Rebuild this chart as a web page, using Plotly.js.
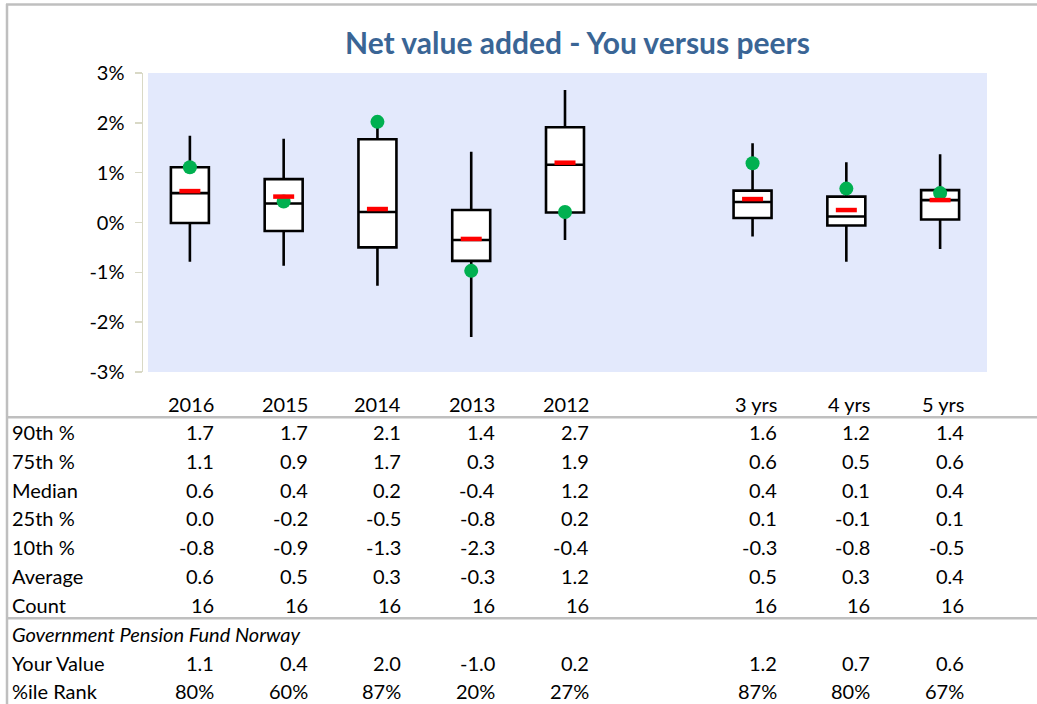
<!DOCTYPE html>
<html>
<head>
<meta charset="utf-8">
<script src="https://cdn.plot.ly/plotly-3.0.1.min.js"></script>
<style>html,body{margin:0;padding:0;background:#fff;}#chart{width:1037px;height:704px;}</style>
</head>
<body>
<div id="chart"></div>
<script>
// ---- data ----
const categories = ['2016', '2015', '2014', '2013', '2012', '3 yrs', '4 yrs', '5 yrs'];
const positions  = [0, 1, 2, 3, 4, 6, 7, 8];
// plotted values (%)
const p90    = [1.74, 1.68, 2.07, 1.42, 2.66, 1.59, 1.21, 1.37];
const p75    = [1.11, 0.87, 1.67, 0.25, 1.91, 0.64, 0.52, 0.65];
const median = [0.59, 0.38, 0.21, -0.35, 1.16, 0.41, 0.12, 0.45];
const p25    = [-0.01, -0.17, -0.50, -0.77, 0.20, 0.09, -0.06, 0.06];
const p10    = [-0.79, -0.87, -1.27, -2.30, -0.35, -0.28, -0.79, -0.53];
const average = [0.63, 0.52, 0.27, -0.33, 1.20, 0.47, 0.25, 0.45];
const yourValue = [1.11, 0.42, 2.02, -0.97, 0.21, 1.19, 0.68, 0.59];
// table values as printed
const t90     = [1.7, 1.7, 2.1, 1.4, 2.7, 1.6, 1.2, 1.4];
const t75     = [1.1, 0.9, 1.7, 0.3, 1.9, 0.6, 0.5, 0.6];
const tMedian = [0.6, 0.4, 0.2, -0.4, 1.2, 0.4, 0.1, 0.4];
const t25     = [0.0, -0.2, -0.5, -0.8, 0.2, 0.1, -0.1, 0.1];
const t10     = [-0.8, -0.9, -1.3, -2.3, -0.4, -0.3, -0.8, -0.5];
const tAverage = [0.6, 0.5, 0.3, -0.3, 1.2, 0.5, 0.3, 0.4];
const tCount  = [16, 16, 16, 16, 16, 16, 16, 16];
const tYour   = [1.1, 0.4, 2.0, -1.0, 0.2, 1.2, 0.7, 0.6];
const tRank   = [80, 60, 87, 20, 27, 87, 80, 67];
const yTicks  = [-3, -2, -1, 0, 1, 2, 3];
const fundName = 'Government Pension Fund Norway';

// ---- layout helpers ----
const W = 1037, H = 704;
const L = 143, R = 987, T = 73, B = 372;
const px2x = x => (x - L) / (R - L);
const px2y = y => (B - y) / (B - T);
const FONT = 'Lato, "Open Sans", sans-serif';
const fs = 20;

const traces = [
  {
    type: 'box', x: positions,
    q1: p25, median: median, q3: p75, lowerfence: p10, upperfence: p90,
    width: 0.405, whiskerwidth: 0,
    fillcolor: '#FFFFFF', line: {color: '#000000', width: 2.6},
    boxpoints: false, hoverinfo: 'skip', showlegend: false
  },
  {
    type: 'scatter', mode: 'markers', x: positions, y: yourValue,
    marker: {color: '#00B050', size: 14, line: {width: 0}},
    hoverinfo: 'skip', showlegend: false, cliponaxis: false
  },
  {
    type: 'scatter', mode: 'markers', x: positions, y: average,
    marker: {symbol: 'line-ew', size: 15, line: {color: '#FF0000', width: 4.5}},
    hoverinfo: 'skip', showlegend: false, cliponaxis: false
  }
];

const rows = [
  {label: '90th %', vals: t90.map(v => v.toFixed(1)), y: 432.3},
  {label: '75th %', vals: t75.map(v => v.toFixed(1)), y: 461},
  {label: 'Median', vals: tMedian.map(v => v.toFixed(1)), y: 489.7},
  {label: '25th %', vals: t25.map(v => v.toFixed(1)), y: 518.3},
  {label: '10th %', vals: t10.map(v => v.toFixed(1)), y: 547},
  {label: 'Average', vals: tAverage.map(v => v.toFixed(1)), y: 576},
  {label: 'Count', vals: tCount.map(v => String(v)), y: 604.7},
  {label: 'Your Value', vals: tYour.map(v => v.toFixed(1)), y: 662.7},
  {label: '%ile Rank', vals: tRank.map(v => v + '%'), y: 691}
];

const annotations = [];
// header row
categories.forEach((c, i) => annotations.push({
  xref: 'x', yref: 'paper', x: positions[i], xshift: 26, y: px2y(403.5),
  xanchor: 'right', yanchor: 'middle', text: c, showarrow: false,
  font: {family: FONT, size: fs, color: '#000'}
}));
rows.forEach(r => {
  annotations.push({
    xref: 'paper', yref: 'paper', x: px2x(10), y: px2y(r.y),
    xanchor: 'left', yanchor: 'middle', text: r.label, showarrow: false,
    font: {family: FONT, size: fs, color: '#000'}
  });
  r.vals.forEach((v, i) => annotations.push({
    xref: 'x', yref: 'paper', x: positions[i], xshift: 26, y: px2y(r.y),
    xanchor: 'right', yanchor: 'middle', text: v, showarrow: false,
    font: {family: FONT, size: fs, color: '#000'}
  }));
});
annotations.push({
  xref: 'paper', yref: 'paper', x: px2x(10), y: px2y(633.7),
  xanchor: 'left', yanchor: 'middle', text: '<i>' + fundName + '</i>', showarrow: false,
  font: {family: FONT, size: fs, color: '#000'}
});

const grey = '#BFBFBF';
const shapes = [
  // plot background (starts slightly right of the axis line)
  {type: 'rect', xref: 'paper', yref: 'paper', x0: px2x(148), x1: 1, y0: 0, y1: 1,
   fillcolor: '#E3E9FC', line: {width: 0}, layer: 'below'},
  // outer frame (left + top)
  {type: 'line', xref: 'paper', yref: 'paper', x0: px2x(7), x1: px2x(7), y0: px2y(4), y1: px2y(704),
   line: {color: grey, width: 2.5}},
  {type: 'line', xref: 'paper', yref: 'paper', x0: px2x(6), x1: px2x(1037), y0: px2y(4.5), y1: px2y(4.5),
   line: {color: grey, width: 2.5}},
  // table rules
  {type: 'line', xref: 'paper', yref: 'paper', x0: px2x(8), x1: px2x(1037), y0: px2y(417.3), y1: px2y(417.3),
   line: {color: grey, width: 2.5}},
  {type: 'line', xref: 'paper', yref: 'paper', x0: px2x(8), x1: px2x(1037), y0: px2y(618.3), y1: px2y(618.3),
   line: {color: grey, width: 2.5}}
];

const layout = {
  width: W, height: H,
  margin: {l: L, r: W - R, t: T, b: H - B, pad: 0},
  paper_bgcolor: '#FFFFFF', plot_bgcolor: 'rgba(0,0,0,0)',
  font: {family: FONT, size: fs, color: '#000'},
  title: {
    text: '<b>Net value added - You versus peers</b>',
    font: {family: FONT, size: 30, color: '#3A6595'},
    x: 577.5 / W, xanchor: 'center', y: 1 - 43 / H, yanchor: 'middle'
  },
  xaxis: {
    range: [-0.5, 8.5], showticklabels: false, showgrid: false, zeroline: false,
    showline: false, ticks: '', fixedrange: true
  },
  yaxis: {
    range: [-3, 3], tickvals: yTicks, ticktext: yTicks.map(v => v + '%'),
    showgrid: false, zeroline: false, showline: true, linecolor: '#D9D9C6', linewidth: 1.5,
    ticks: 'outside', ticklen: 7, tickcolor: '#D9D9C6', tickwidth: 1.5,
    ticklabelstandoff: 6, tickfont: {family: FONT, size: fs, color: '#000'}, fixedrange: true
  },
  shapes: shapes,
  annotations: annotations,
  showlegend: false
};

Plotly.newPlot('chart', traces, layout, {displayModeBar: false, staticPlot: true});
</script>
</body>
</html>
